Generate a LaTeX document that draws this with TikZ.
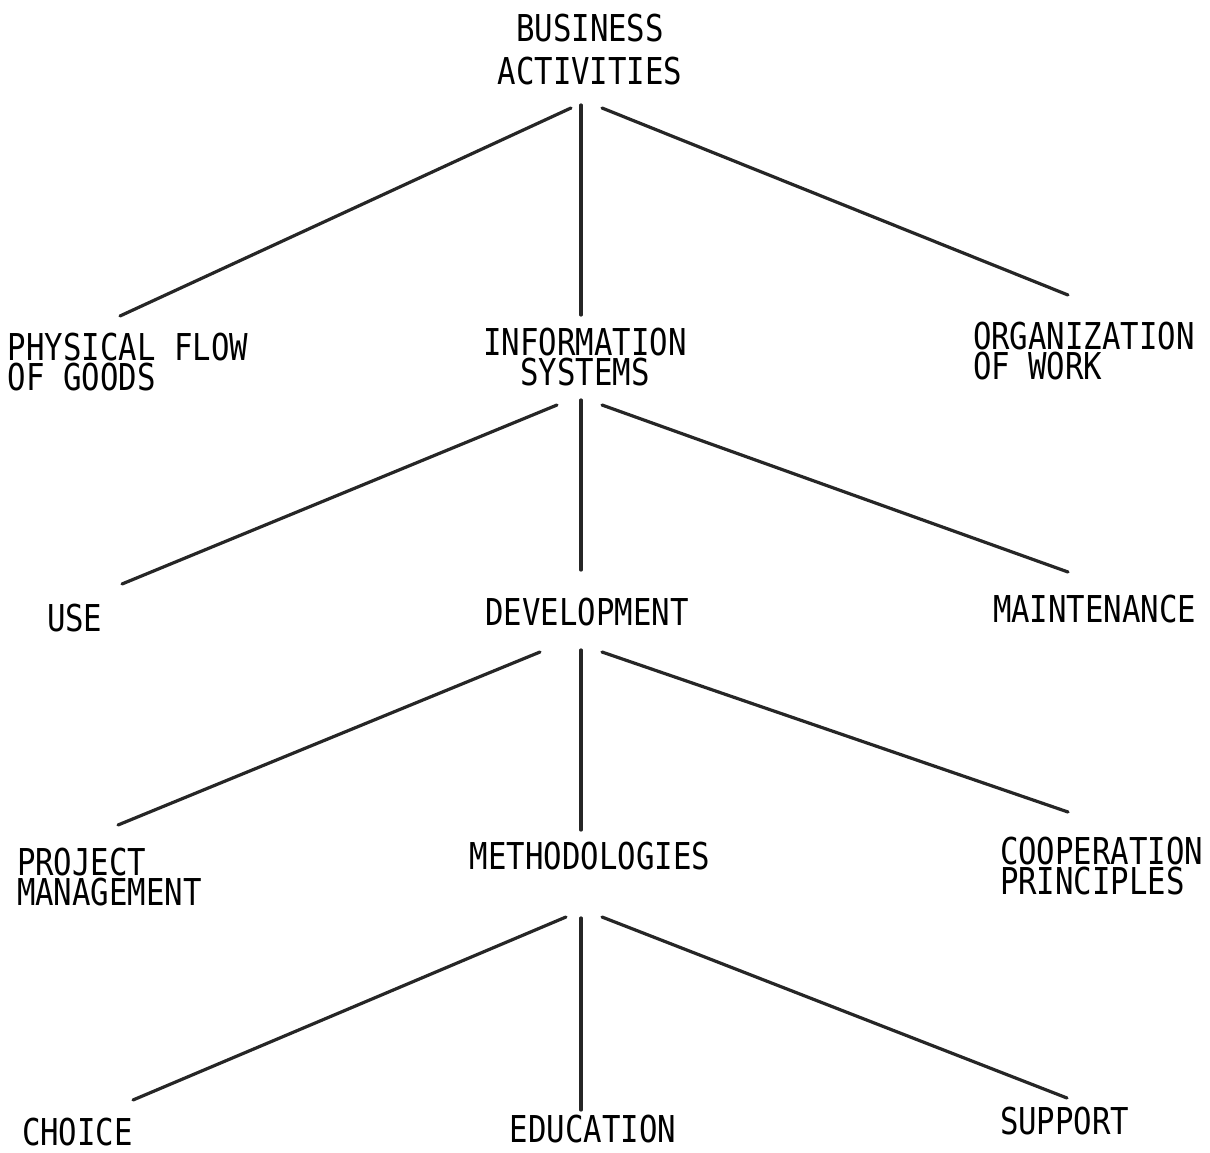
\documentclass[tikz,border=0pt]{standalone}
\usepackage{fontspec}
\setmonofont[FakeStretch=0.83]{DejaVu Sans Mono}
\begin{document}
\begin{tikzpicture}[x=1pt,y=-1pt,
  lbl/.style={font=\ttfamily\fontsize{37}{30}\selectfont, inner sep=0pt, outer sep=0pt},
  lblL/.style={lbl, anchor=north west, align=left},
  lblC/.style={lbl, anchor=north, align=center},
  branch/.style={line width=3.2pt, line cap=round, black!85}]
\useasboundingbox (0,0) rectangle (1210,1153);

% labels, level by level
\node[lblC] (biz)   at (590,14)   {BUSINESS\\[13pt]ACTIVITIES};
\node[lblL] (phys)  at (8,333)    {PHYSICAL FLOW\\OF GOODS};
\node[lblC] (info)  at (585,328)  {INFORMATION\\SYSTEMS};
\node[lblL] (org)   at (973,322)  {ORGANIZATION\\OF WORK};
\node[lblL] (use)   at (47,604)   {USE};
\node[lblC] (dev)   at (587,598)  {DEVELOPMENT};
\node[lblL] (maint) at (993,595)  {MAINTENANCE};
\node[lblL] (proj)  at (17,848)   {PROJECT\\MANAGEMENT};
\node[lblC] (meth)  at (590,842)  {METHODOLOGIES};
\node[lblL] (coop)  at (1000,837) {COOPERATION\\PRINCIPLES};
\node[lblL] (choice) at (22,1118) {CHOICE};
\node[lblC] (edu)   at (593,1115) {EDUCATION};
\node[lblL] (supp)  at (1000,1107) {SUPPORT};

% branch end points
\coordinate (biz-l) at (571,108);  \coordinate (biz-c) at (581,105);  \coordinate (biz-r) at (602,108);
\coordinate (phys-t) at (120,316); \coordinate (info-t) at (581,315); \coordinate (org-t) at (1068,295);
\coordinate (info-l) at (557,405); \coordinate (info-c) at (581,400); \coordinate (info-r) at (602,405);
\coordinate (use-t) at (122,584);  \coordinate (dev-t) at (581,570);  \coordinate (maint-t) at (1068,572);
\coordinate (dev-l) at (540,652);  \coordinate (dev-c) at (581,650);  \coordinate (dev-r) at (602,652);
\coordinate (proj-t) at (118,825); \coordinate (meth-t) at (581,830); \coordinate (coop-t) at (1068,812);
\coordinate (meth-l) at (566,917); \coordinate (meth-c) at (581,918); \coordinate (meth-r) at (602,917);
\coordinate (choice-t) at (133,1100); \coordinate (edu-t) at (581,1110); \coordinate (supp-t) at (1067,1098);

% branches
\draw[branch] (biz-l) -- (phys-t);
\draw[branch] (biz-c) -- (info-t);
\draw[branch] (biz-r) -- (org-t);
\draw[branch] (info-l) -- (use-t);
\draw[branch] (info-c) -- (dev-t);
\draw[branch] (info-r) -- (maint-t);
\draw[branch] (dev-l) -- (proj-t);
\draw[branch] (dev-c) -- (meth-t);
\draw[branch] (dev-r) -- (coop-t);
\draw[branch] (meth-l) -- (choice-t);
\draw[branch] (meth-c) -- (edu-t);
\draw[branch] (meth-r) -- (supp-t);
\end{tikzpicture}
\end{document}
